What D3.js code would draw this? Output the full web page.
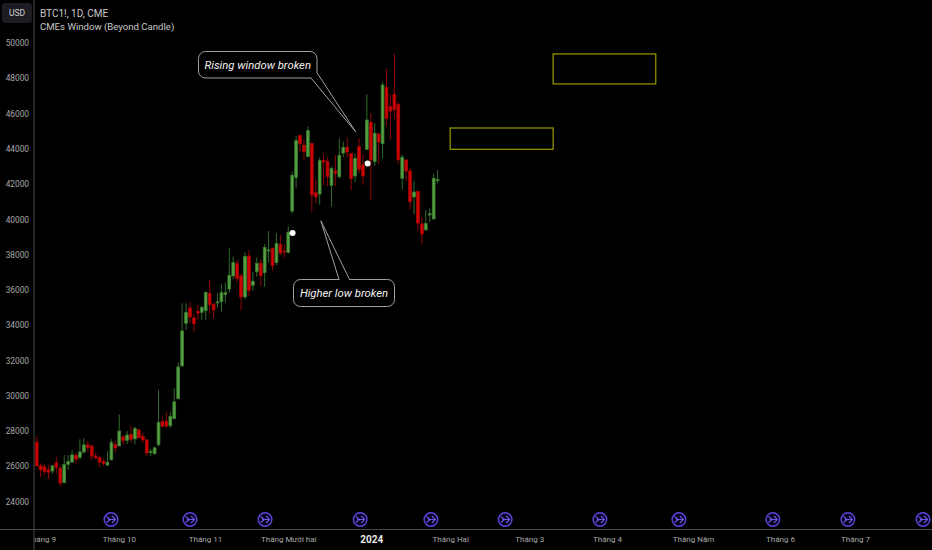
<!DOCTYPE html>
<html>
<head>
<meta charset="utf-8">
<style>
  html, body { margin: 0; padding: 0; background: #000; overflow: hidden; }
  text { font-family: Roboto, sans-serif; }
</style>
<script src="https://cdn.jsdelivr.net/npm/d3@7"></script>
</head>
<body>
<svg id="chart"></svg>
<script>
'use strict'

const WIDTH = 932;
const HEIGHT = 550;

const open = [27360,26030,25960,25790,25730,26190,25900,25070,26110,26240,26620,26510,26810,27210,27150,26580,26490,26280,26070,26360,27230,27150,27660,27470,27810,27550,28060,27700,27490,26770,26720,27230,28530,28550,28300,28700,
  29830,31690,34110,34970,34410,34770,34730,34820,35790,35200,35280,35330,35730,36050,36790,37490,36790,35600,37920,36260,37030,37510,36980,38210,38360,37550,38570,38210,38130,
  40470,42380,44770,44200,43560,44310,41510,41440,43350,43270,41930,42740,42420,43760,44080,43740,42460,44120,43080,
  43970,45500,43270,44840,44290,47490,46390,47090,46520,42330,43370,42740,41270,41590,39740,39400,40250,40020,42190];
const high = [27680,26170,26130,26070,26070,26510,25940,26640,26640,26920,26770,27530,27590,27430,27210,26770,26580,26450,26870,27530,27430,28930,27770,27990,28280,28250,28110,27870,27530,26980,27110,30330,28780,29060,29060,30420,
  31890,35240,35240,35330,34630,35150,35090,35900,36560,35240,35810,36320,36410,38360,37890,37700,36940,38130,38260,37030,37850,37730,38600,39340,38400,39210,39110,38600,39620,
  42700,44730,44770,44540,45260,44310,42270,43500,43690,43520,42990,43650,44590,44410,44650,43740,43740,44600,43710,
  47090,46010,45450,44840,47810,48530,47090,49410,46670,43650,43370,42950,42180,41590,40150,40530,40630,42570,42800];
const low = [26020,25370,25510,25280,25560,25600,24880,25070,25790,26170,26130,26390,26700,26810,26360,26430,25940,26020,26020,26360,26770,27150,27210,27260,27340,27240,27590,27300,26550,26580,26640,27110,28230,28190,28150,28660,
  29780,31650,33730,34110,33630,34290,34290,34290,34630,34390,35010,34770,35280,35840,36600,36470,34820,35470,35620,35960,36750,36220,36180,37550,37090,37410,37980,37850,38070,
  40340,41800,43840,43370,43520,40440,40910,40810,41950,41890,40720,41890,42330,43520,43520,41630,42120,42610,41950,
  43930,41100,43030,43140,43460,45260,44500,45690,43180,41700,42190,40570,40300,39340,38550,39400,39850,40020,42040];
const close = [26020,25790,25710,25660,26020,25940,25050,26090,26260,26640,26410,26810,27210,27070,26580,26470,26240,26150,26210,27340,27040,27990,27450,27770,27530,28130,27620,27490,26750,26830,27040,28490,28270,28270,28830,29650,
  31630,33670,34730,34460,34090,34690,35010,35860,35160,34860,35320,35840,35840,36830,37550,36660,35600,37890,35980,36490,37510,36810,38400,38260,37390,38640,38090,38150,39270,
  42500,44460,44290,43840,45030,41380,41270,43330,43250,42420,42880,42610,43630,44080,43820,42310,43460,42840,42460,
  45630,43370,44880,44390,47620,45730,46140,46220,43390,43520,42740,41000,41550,39790,39170,39760,40320,42330,42250];

const priceTicks = [24000,26000,28000,30000,32000,34000,36000,38000,40000,42000,44000,46000,48000,50000];
const monthTicks = [1.1,20.9,42.8,64,85.1,105.2,125.3,145.1,167,189.1,208.2];
const monthLabels = ['Tháng 9','Tháng 10','Tháng 11','Tháng Mười hai','2024','Tháng Hai','Tháng 3','Tháng 4','Tháng Năm','Tháng 6','Tháng 7'];
const signalBars = [18.9,39,58.1,82.3,100.3,119.2,143.3,163.4,187.3,206.4,225.5];
const windowStart = [105.2,131.4];
const windowEnd = [131.4,157.5];
const windowTop = [45180,49380];
const windowBottom = [43970,47680];
const dotBars = [65.1,84.2];
const dotPrices = [39230,43160];

const xScale = d3.scaleLinear().domain([0, 102]).range([36.7, 437.6]);
const yScale = d3.scaleLinear().domain([24000, 50000]).range([501.5, 43]);

const svg = d3.select('#chart').attr('width', WIDTH).attr('height', HEIGHT);
svg.append('rect').attr('width', WIDTH).attr('height', HEIGHT).attr('fill', '#000');

svg.append('clipPath').attr('id', 'plot-clip').append('rect')
  .attr('x', 34).attr('y', 0).attr('width', WIDTH - 34).attr('height', HEIGHT);

const GREEN = '#55a040';
const GREEN_EDGE = '#3a7a30';
const GREEN_WICK = '#2f6d2b';
const RED = '#cc0404';
const RED_EDGE = '#a80404';
const RED_WICK = '#8f0505';

// candles
const bars = d3.range(open.length);
const plot = svg.append('g').attr('clip-path', 'url(#plot-clip)');
plot.selectAll('line.wick').data(bars).enter().append('line')
  .attr('class', 'wick')
  .attr('x1', i => xScale(i)).attr('x2', i => xScale(i))
  .attr('y1', i => yScale(high[i])).attr('y2', i => yScale(low[i]))
  .attr('stroke', i => close[i] >= open[i] ? GREEN_WICK : RED_WICK)
  .attr('stroke-width', 1);
plot.selectAll('rect.body').data(bars).enter().append('rect')
  .attr('class', 'body')
  .attr('x', i => xScale(i) - 1.4)
  .attr('width', 2.8)
  .attr('y', i => yScale(Math.max(open[i], close[i])))
  .attr('height', i => Math.max(1, Math.abs(yScale(open[i]) - yScale(close[i]))))
  .attr('fill', i => close[i] >= open[i] ? GREEN : RED)
  .attr('stroke', i => close[i] >= open[i] ? GREEN_EDGE : RED_EDGE)
  .attr('stroke-width', 0.8);

// CME windows
plot.selectAll('rect.window').data(windowStart).enter().append('rect')
  .attr('class', 'window')
  .attr('x', (d, i) => xScale(windowStart[i]))
  .attr('width', (d, i) => xScale(windowEnd[i]) - xScale(windowStart[i]))
  .attr('y', (d, i) => yScale(windowTop[i]))
  .attr('height', (d, i) => yScale(windowBottom[i]) - yScale(windowTop[i]))
  .attr('fill', 'none')
  .attr('stroke', '#8f8f00')
  .attr('stroke-width', 1.3);

// callouts
function callout(tipBar, tipPrice, x, y, w, h, base, label) {
  const tx = xScale(tipBar);
  const ty = yScale(tipPrice);
  const g = svg.append('g');
  g.append('rect').attr('x', x).attr('y', y).attr('width', w).attr('height', h).attr('rx', 7)
    .attr('fill', '#000').attr('stroke', '#a0a0a0').attr('stroke-width', 1);
  g.append('path')
    .attr('d', `M${base[0]},${base[1]}L${tx},${ty}L${base[2]},${base[3]}`)
    .attr('fill', '#000').attr('stroke', '#a0a0a0').attr('stroke-width', 1);
  // hide the border under the pointer
  g.append('line').attr('x1', base[0] + 0.7).attr('y1', base[1])
    .attr('x2', base[2] - 0.7).attr('y2', base[3])
    .attr('stroke', '#000').attr('stroke-width', 1.5);
  g.append('text').attr('x', x + w / 2).attr('y', y + h / 2 + 4)
    .attr('text-anchor', 'middle').attr('fill', '#f2f2f2')
    .attr('font-size', 11.3).attr('font-style', 'italic').text(label);
}
callout(81.2, 44950, 198.5, 51.5, 118.5, 26.5, [311, 78, 316.5, 72], 'Rising window broken');
callout(72.3, 39920, 293.5, 279.5, 101, 27, [339, 279.5, 349.5, 279.5], 'Higher low broken');

// dots
svg.selectAll('circle.dot').data(dotBars).enter().append('circle')
  .attr('class', 'dot')
  .attr('cx', (d, i) => xScale(dotBars[i]))
  .attr('cy', (d, i) => yScale(dotPrices[i]))
  .attr('r', 3).attr('fill', '#fff');

// purple signals along the bottom
const signals = plot.selectAll('g.signal').data(signalBars).enter().append('g')
  .attr('class', 'signal')
  .attr('transform', d => `translate(${xScale(d)},519.5)`);
signals.append('circle').attr('r', 6.8).attr('fill', '#05031a')
  .attr('stroke', '#5f45e0').attr('stroke-width', 1.4);
signals.append('path').attr('d', 'M-4.5,-3 L-0.5,0 L-4.5,3 M-3,0 L4.5,0 M1,-3.5 L4.5,0 L1,3.5')
  .attr('fill', 'none').attr('stroke', '#6f55ea').attr('stroke-width', 1.1);

// axes
const leftAxis = d3.axisLeft(yScale).tickValues(priceTicks).tickSize(0).tickPadding(5)
  .tickFormat(d3.format('d'));
const yAxisG = svg.append('g').attr('id', 'left-axis')
  .attr('transform', 'translate(34,0)').call(leftAxis);
yAxisG.select('.domain').remove();
yAxisG.selectAll('text').attr('fill', '#a8a8a8').style('font-size', '8.3px');

const bottomAxis = d3.axisBottom(xScale).tickValues(monthTicks).tickSize(0).tickPadding(7)
  .tickFormat((d, i) => monthLabels[i]);
const xAxisG = svg.append('g').attr('id', 'bottom-axis')
  .attr('transform', 'translate(0,529)')
  .attr('clip-path', 'url(#plot-clip)');
xAxisG.call(bottomAxis);
xAxisG.select('.domain').remove();
xAxisG.selectAll('text').attr('fill', '#a8a8a8').style('font-size', '8px')
  .filter(d => d === monthTicks[4])
  .attr('fill', '#e8e8e8').style('font-weight', 'bold').style('font-size', '10px');

svg.append('line').attr('x1', 34).attr('x2', 34).attr('y1', 0).attr('y2', HEIGHT)
  .attr('stroke', '#4a4a4a').attr('stroke-width', 1);
svg.append('line').attr('x1', 0).attr('x2', WIDTH).attr('y1', 529.5).attr('y2', 529.5)
  .attr('stroke', '#4a4a4a').attr('stroke-width', 1);

// header
svg.append('rect').attr('x', 2).attr('y', 3).attr('width', 30).attr('height', 20).attr('rx', 3)
  .attr('fill', '#1c1c22');
svg.append('text').attr('x', 17).attr('y', 16).attr('text-anchor', 'middle')
  .attr('fill', '#d0d0d0').attr('font-size', 8.5).text('USD');
svg.append('text').attr('x', 40).attr('y', 17.3).attr('fill', '#c8c8c8').attr('font-size', 10)
  .text('BTC1!, 1D, CME');
svg.append('text').attr('x', 40).attr('y', 30.3).attr('fill', '#c8c8c8').attr('font-size', 9.6)
  .text('CMEs Window (Beyond Candle)');
</script>
</body>
</html>
